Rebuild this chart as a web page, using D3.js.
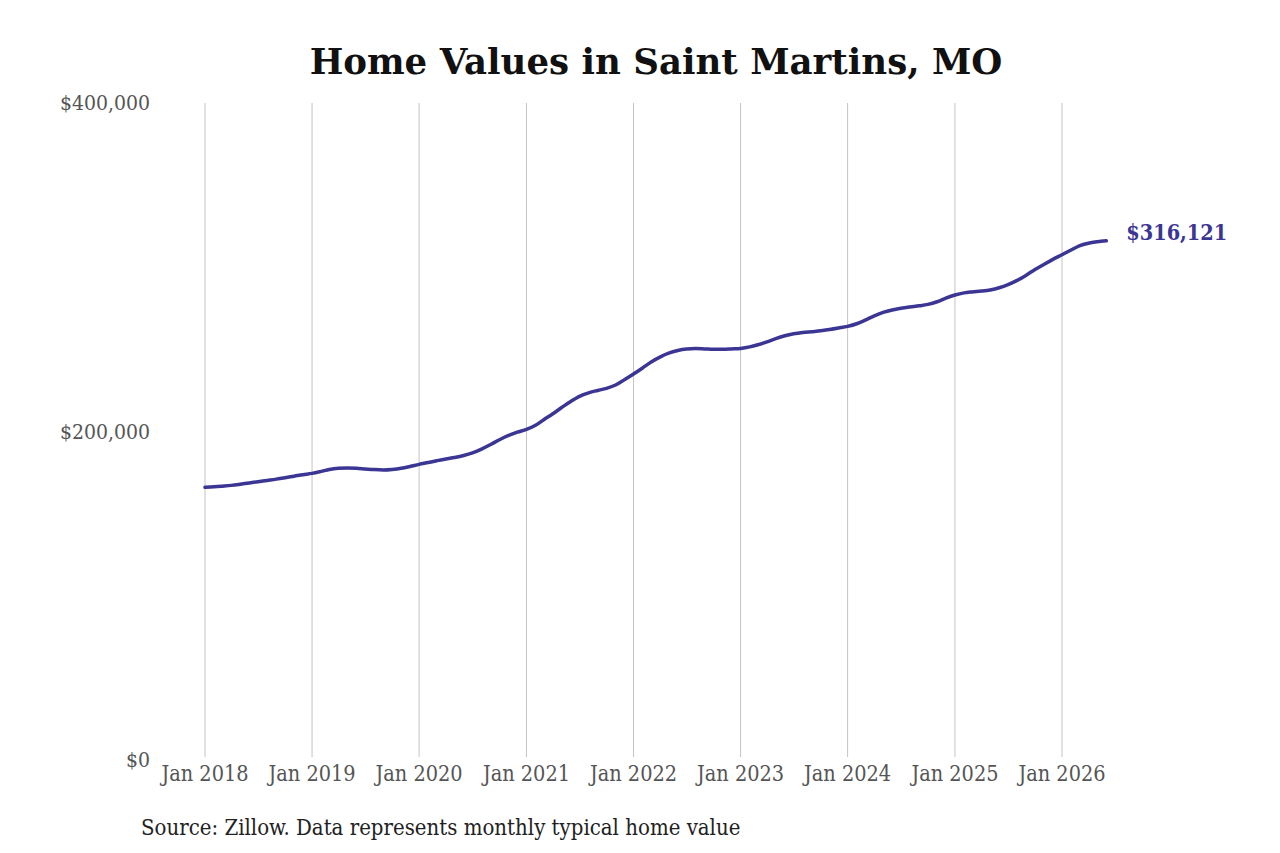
<!DOCTYPE html>
<html>
<head>
<meta charset="utf-8">
<script src="https://cdn.jsdelivr.net/npm/d3@7"></script>
<style>
  body { margin: 0; background: #fff; }
  svg { display: block; }
</style>
</head>
<body>
<svg id="chart" width="1280" height="853"></svg>
<script>
// monthly typical home value, Jan 2018 .. Jun 2026
const startMonth = '2018-01';
const values = [
  166000, 166300, 166700, 167200, 167900, 168700, 169400, 170200, 171000, 171900, 172800, 173700,
  174500, 175700, 176900, 177600, 177800, 177600, 177200, 176800, 176600, 176900, 177600, 178700,
  180000, 181100, 182200, 183300, 184200, 185400, 187000, 189300, 192100, 195000, 197600, 199600,
  201300, 203800, 207200, 210800, 214600, 218300, 221400, 223500, 225000, 226300, 228300, 231500,
  235000, 238700, 242200, 245300, 247700, 249300, 250200, 250500, 250300, 250100, 250100, 250300,
  250600, 251500, 252800, 254600, 256600, 258300, 259500, 260300, 260800, 261300, 262100, 263000,
  264000, 265600, 267800, 270400, 272500, 274000, 275000, 275800, 276500, 277400, 279000, 281200,
  283100, 284400, 285000, 285500, 286200, 287500, 289400, 292000, 295200, 298600, 301800, 304800,
  307600, 310500, 313000, 314600, 315500, 316121
];
const yTicks = [0, 200000, 400000];
const xTickYears = [2018, 2019, 2020, 2021, 2022, 2023, 2024, 2025, 2026];

const parse = d3.timeParse('%Y-%m');
const t0 = parse(startMonth);
const data = values.map((v, i) => ({ date: d3.timeMonth.offset(t0, i), value: v }));

const svg = d3.select('#chart');
const color = '#3b3594';
const serif = '"DejaVu Serif Condensed", "DejaVu Serif", serif';

let x = d3.scaleTime()
    .domain([new Date(2018, 0, 1), new Date(2026, 0, 1)])
    .range([205, 1062]);

let y = d3.scaleLinear()
    .domain([0, 400000])
    .range([760, 103]);

// vertical grid
svg.append('g')
    .selectAll('line')
    .data(xTickYears)
    .join('line')
    .attr('x1', d => x(new Date(d, 0, 1)))
    .attr('x2', d => x(new Date(d, 0, 1)))
    .attr('y1', y(400000))
    .attr('y2', 757)
    .attr('stroke', '#c4c4c4')
    .attr('stroke-width', 1);

// x labels
svg.append('g')
    .selectAll('text')
    .data(xTickYears)
    .join('text')
    .attr('x', d => x(new Date(d, 0, 1)))
    .attr('y', 781)
    .attr('text-anchor', 'middle')
    .attr('font-family', serif)
    .attr('font-size', 21.5)
    .attr('fill', '#555')
    .text(d => 'Jan ' + d);

// y labels
svg.append('g')
    .selectAll('text')
    .data(yTicks)
    .join('text')
    .attr('x', 150)
    .attr('y', d => y(d) + 7)
    .attr('text-anchor', 'end')
    .attr('font-family', serif)
    .attr('font-size', 21)
    .attr('fill', '#555')
    .text(d => '$' + d3.format(',')(d));

let line = d3.line()
    .x(d => x(d.date))
    .y(d => y(d.value))
    .curve(d3.curveMonotoneX);

svg.append('path')
    .attr('d', line(data))
    .attr('fill', 'none')
    .attr('stroke', color)
    .attr('stroke-width', 3.5)
    .attr('stroke-linecap', 'round');

const last = data[data.length - 1];
svg.append('text')
    .attr('x', x(last.date) + 20)
    .attr('y', y(last.value) - 1)
    .attr('font-family', serif)
    .attr('font-size', 21.5)
    .attr('font-weight', 'bold')
    .attr('fill', color)
    .text('$' + d3.format(',')(last.value));

svg.append('text')
    .attr('x', 656)
    .attr('y', 74)
    .attr('text-anchor', 'middle')
    .attr('font-family', '"DejaVu Serif", serif')
    .attr('font-size', 35.6)
    .attr('font-weight', 'bold')
    .attr('fill', '#111')
    .text('Home Values in Saint Martins, MO');

svg.append('text')
    .attr('x', 141)
    .attr('y', 835)
    .attr('font-family', serif)
    .attr('font-size', 22)
    .attr('fill', '#222')
    .text('Source: Zillow. Data represents monthly typical home value');
</script>
</body>
</html>
